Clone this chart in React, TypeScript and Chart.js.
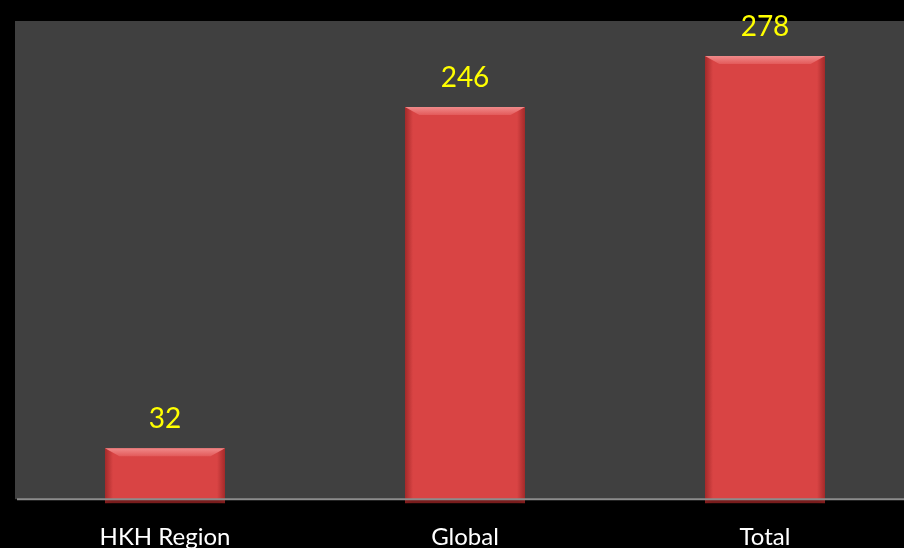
import React, { useEffect, useRef } from "react";
import { Chart, registerables } from "chart.js";

Chart.register(...registerables);

const categories: string[] = ["HKH Region", "Global", "Total"];
const values: number[] = [32, 246, 278];
const yMin = 0;
const yMax = 300;

const plotBg = {
  id: "plotBg",
  beforeDraw(chart: any) {
    const { ctx, chartArea } = chart;
    ctx.save();
    ctx.fillStyle = "#000000";
    ctx.fillRect(0, 0, chart.width, chart.height);
    ctx.fillStyle = "#404040";
    ctx.fillRect(chartArea.left, chartArea.top, chartArea.right - chartArea.left, chartArea.bottom - chartArea.top);
    ctx.restore();
  },
};

const bevel = {
  id: "bevel",
  afterDatasetsDraw(chart: any) {
    const { ctx } = chart;
    const meta = chart.getDatasetMeta(0);
    ctx.save();
    meta.data.forEach((bar: any) => {
      const { x, y, base, width } = bar.getProps(["x", "y", "base", "width"], true);
      const l = x - width / 2;
      const r = x + width / 2;
      const b = base + 4;
      const bw = 8;
      const gl = ctx.createLinearGradient(l, 0, l + bw, 0);
      gl.addColorStop(0, "rgba(120,20,20,0.55)");
      gl.addColorStop(1, "rgba(120,20,20,0)");
      ctx.fillStyle = gl;
      ctx.fillRect(l, y, bw, b - y);
      const gr = ctx.createLinearGradient(r - bw, 0, r, 0);
      gr.addColorStop(0, "rgba(120,20,20,0)");
      gr.addColorStop(1, "rgba(120,20,20,0.55)");
      ctx.fillStyle = gr;
      ctx.fillRect(r - bw, y, bw, b - y);
      const gt = ctx.createLinearGradient(0, y, 0, y + bw);
      gt.addColorStop(0, "#f08a8a");
      gt.addColorStop(1, "#e35a5a");
      ctx.fillStyle = gt;
      ctx.beginPath();
      ctx.moveTo(l, y);
      ctx.lineTo(r, y);
      ctx.lineTo(r - bw * 1.8, y + bw);
      ctx.lineTo(l + bw * 1.8, y + bw);
      ctx.closePath();
      ctx.fill();
      ctx.fillStyle = "rgba(150,35,35,0.8)";
      ctx.fillRect(l, base, width, 4);
    });
    ctx.restore();
  },
};

const valueLabels = {
  id: "valueLabels",
  afterDraw(chart: any) {
    const { ctx } = chart;
    const meta = chart.getDatasetMeta(0);
    ctx.save();
    ctx.fillStyle = "#ffff00";
    ctx.font = "28px Lato";
    ctx.textAlign = "center";
    ctx.textBaseline = "middle";
    meta.data.forEach((bar: any, i: number) => {
      ctx.fillText(String(values[i]), bar.x, bar.y - 29);
    });
    ctx.restore();
  },
};

const axisLine = {
  id: "axisLine",
  afterDatasetsDraw(chart: any) {
    const { ctx, chartArea } = chart;
    ctx.save();
    ctx.strokeStyle = "#8c8c8c";
    ctx.lineWidth = 2;
    ctx.beginPath();
    ctx.moveTo(chartArea.left + 2, chartArea.bottom);
    ctx.lineTo(chartArea.right, chartArea.bottom);
    ctx.stroke();
    ctx.restore();
  },
};

export default function App() {
  const ref = useRef<HTMLCanvasElement | null>(null);
  useEffect(() => {
    document.body.style.margin = "0";
    document.body.style.background = "#000";
    const canvas = ref.current!;
    const chart = new Chart(canvas, {
      type: "bar",
      data: {
        labels: categories,
        datasets: [
          {
            data: values,
            backgroundColor: "#d94444",
            borderWidth: 0,
            categoryPercentage: 1,
            barPercentage: 0.4,
          },
        ],
      },
      options: {
        animation: false,
        responsive: false,
        maintainAspectRatio: false,
        layout: { padding: { left: 15, top: 21, right: 0, bottom: -28 } },
        plugins: { legend: { display: false }, tooltip: { enabled: false } },
        scales: {
          x: {
            grid: { display: false, drawTicks: false },
            border: { display: false },
            ticks: {
              color: "#ffffff",
              font: { family: "Lato", size: 24, lineHeight: 1.2 },
              padding: 24,
            },
          },
          y: {
            display: false,
            min: yMin,
            max: yMax,
          },
        },
      },
      plugins: [plotBg, bevel, axisLine, valueLabels],
    });
    return () => chart.destroy();
  }, []);
  return (
    <div style={{ position: "fixed", left: 0, top: 0, width: 904, height: 548, overflow: "hidden", background: "#000" }}>
      <canvas ref={ref} width={915} height={548} style={{ width: 915, height: 548, display: "block" }} />
    </div>
  );
}
